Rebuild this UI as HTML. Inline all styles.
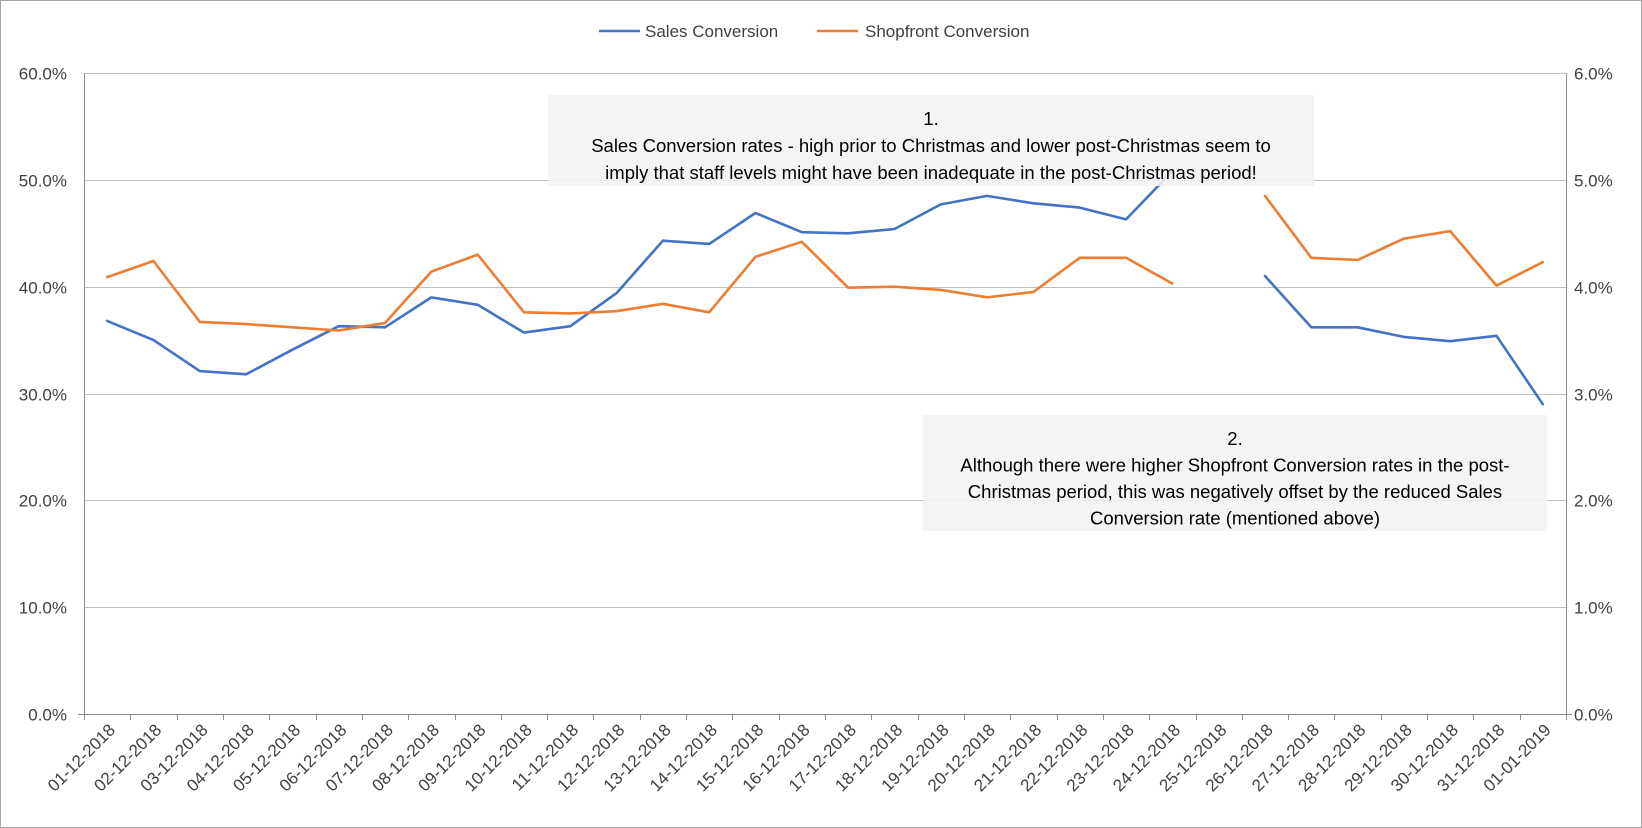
<!DOCTYPE html>
<html><head><meta charset="utf-8"><style>
html,body{margin:0;padding:0;background:#fff}
svg{display:block;font-family:"Liberation Sans",sans-serif}
</style></head><body>
<svg id="chart" width="1642" height="828" viewBox="0 0 1642 828" xmlns="http://www.w3.org/2000/svg">
<rect x="0.5" y="0.5" width="1641" height="827" fill="#fff" stroke="#a6a6a6"/>
<g id="grid"></g><g id="axes"></g><g id="series"></g><g id="notes"></g><g id="legend"></g>
</svg>
<script>
const categories=["01-12-2018","02-12-2018","03-12-2018","04-12-2018","05-12-2018","06-12-2018","07-12-2018","08-12-2018","09-12-2018","10-12-2018","11-12-2018","12-12-2018","13-12-2018","14-12-2018","15-12-2018","16-12-2018","17-12-2018","18-12-2018","19-12-2018","20-12-2018","21-12-2018","22-12-2018","23-12-2018","24-12-2018","25-12-2018","26-12-2018","27-12-2018","28-12-2018","29-12-2018","30-12-2018","31-12-2018","01-01-2019"];
const salesConversion=[36.8,35.0,32.1,31.8,34.1,36.3,36.2,39.0,38.3,35.7,36.3,39.4,44.3,44.0,46.9,45.1,45.0,45.4,47.7,48.5,47.8,47.4,46.3,50.8,null,41.0,36.2,36.2,35.3,34.9,35.4,29.0];
const shopfrontConversion=[4.09,4.24,3.67,3.65,3.62,3.59,3.66,4.14,4.30,3.76,3.75,3.77,3.84,3.76,4.28,4.42,3.99,4.00,3.97,3.90,3.95,4.27,4.27,4.03,null,4.85,4.27,4.25,4.45,4.52,4.01,4.23];
const leftTicks=[0,10,20,30,40,50,60];
const rightTicks=[0,1,2,3,4,5,6];

const NS="http://www.w3.org/2000/svg";
const L=84,R=1566,T=73,B=714;
const xs=i=>L+(R-L)/categories.length*(i+0.5);
const yL=v=>B-(B-T)*v/60;
const yR=v=>B-(B-T)*v/6;
function mk(tag,attrs,parent){const e=document.createElementNS(NS,tag);for(const k in attrs)e.setAttribute(k,attrs[k]);parent.appendChild(e);return e;}
const grid=document.getElementById('grid'),axes=document.getElementById('axes'),series=document.getElementById('series'),notes=document.getElementById('notes'),legend=document.getElementById('legend');

leftTicks.forEach((v,i)=>{
  const y=Math.round(yL(v))+0.5;
  if(v>0){const g=mk('line',{x1:L,x2:R,y1:y,y2:y,stroke:'#bfbfbf','stroke-width':1},grid);
  
  }
  const t=mk('text',{x:L-17,y:y+6,'text-anchor':'end','font-size':17,fill:'#404040'},axes);
  t.textContent=v.toFixed(1)+'%';
  
  
});
rightTicks.forEach(v=>{
  const y=Math.round(yR(v))+0.5;
  const t=mk('text',{x:R+8,y:y+6,'font-size':17,fill:'#404040'},axes);
  t.textContent=v.toFixed(1)+'%';
  
  
});
let a=mk('line',{x1:L+0.5,x2:L+0.5,y1:T,y2:B,stroke:'#8c8c8c'},axes);


a=mk('line',{x1:R+0.5,x2:R+0.5,y1:T,y2:B,stroke:'#8c8c8c'},axes);


a=mk('line',{x1:L-6,x2:R+6,y1:B+0.5,y2:B+0.5,stroke:'#8c8c8c'},axes);


const step=(R-L)/categories.length;
for(let i=0;i<=categories.length;i++){
  const x=Math.round(L+step*i)+0.5;
  mk('line',{x1:x,x2:x,y1:B,y2:B+6,stroke:'#8c8c8c'},axes);
}
categories.forEach((c,i)=>{
  const x=xs(i)+9,y=B+17;
  const t=mk('text',{x:x,y:y,'text-anchor':'end','font-size':17,fill:'#404040',transform:`rotate(-45 ${x} ${y})`},axes);
  t.textContent=c;
  
  
});

function drawLine(vals,yf,color,name){
  let d='',pen=false;
  vals.forEach((v,i)=>{
    if(v==null){pen=false;return;}
    d+=(pen?'L':'M')+xs(i).toFixed(1)+','+yf(v).toFixed(1);pen=true;
  });
  const p=mk('path',{d:d,fill:'none',stroke:color,'stroke-width':2.6,'stroke-linejoin':'round','stroke-linecap':'round'},series);
  
  
}
drawLine(salesConversion,yL,'#4472c4','sales-conversion-line');
drawLine(shopfrontConversion,yR,'#ed7d31','shopfront-conversion-line');

function note(x,y,w,h,lines,name,lh,sz){
  const g=mk('g',{},notes);
  
  
  mk('rect',{x:x,y:y,width:w,height:h,fill:'#f2f2f2','fill-opacity':0.88},g);
  lines.forEach((s,i)=>{
    const t=mk('text',{x:x+w/2,y:y+30+i*lh,'text-anchor':'middle','font-size':sz,fill:'#000','font-family':'"Liberation Sans Narrow","Liberation Sans",sans-serif'},g);
    t.textContent=s;
  });
}
note(548,95,766,91,["1.","Sales Conversion rates - high prior to Christmas and lower post-Christmas seem to","imply that staff levels might have been inadequate in the post-Christmas period!"],'annotation-1',27,18.5);
note(923,415,624,116,["2.","Although there were higher Shopfront Conversion rates in the post-","Christmas period, this was negatively offset by the reduced Sales","Conversion rate (mentioned above)"],'annotation-2',26.5,18.5);

[[599,645,'#4472c4','Sales Conversion','legend-sales'],[817,865,'#ed7d31','Shopfront Conversion','legend-shopfront']].forEach(e=>{
  const g=mk('g',{},legend);
  
  
  mk('line',{x1:e[0],x2:e[0]+41,y1:31,y2:31,stroke:e[2],'stroke-width':2.6},g);
  const t=mk('text',{x:e[1],y:37,'font-size':17,fill:'#404040'},g);
  t.textContent=e[3];
});
</script>
</body></html>
